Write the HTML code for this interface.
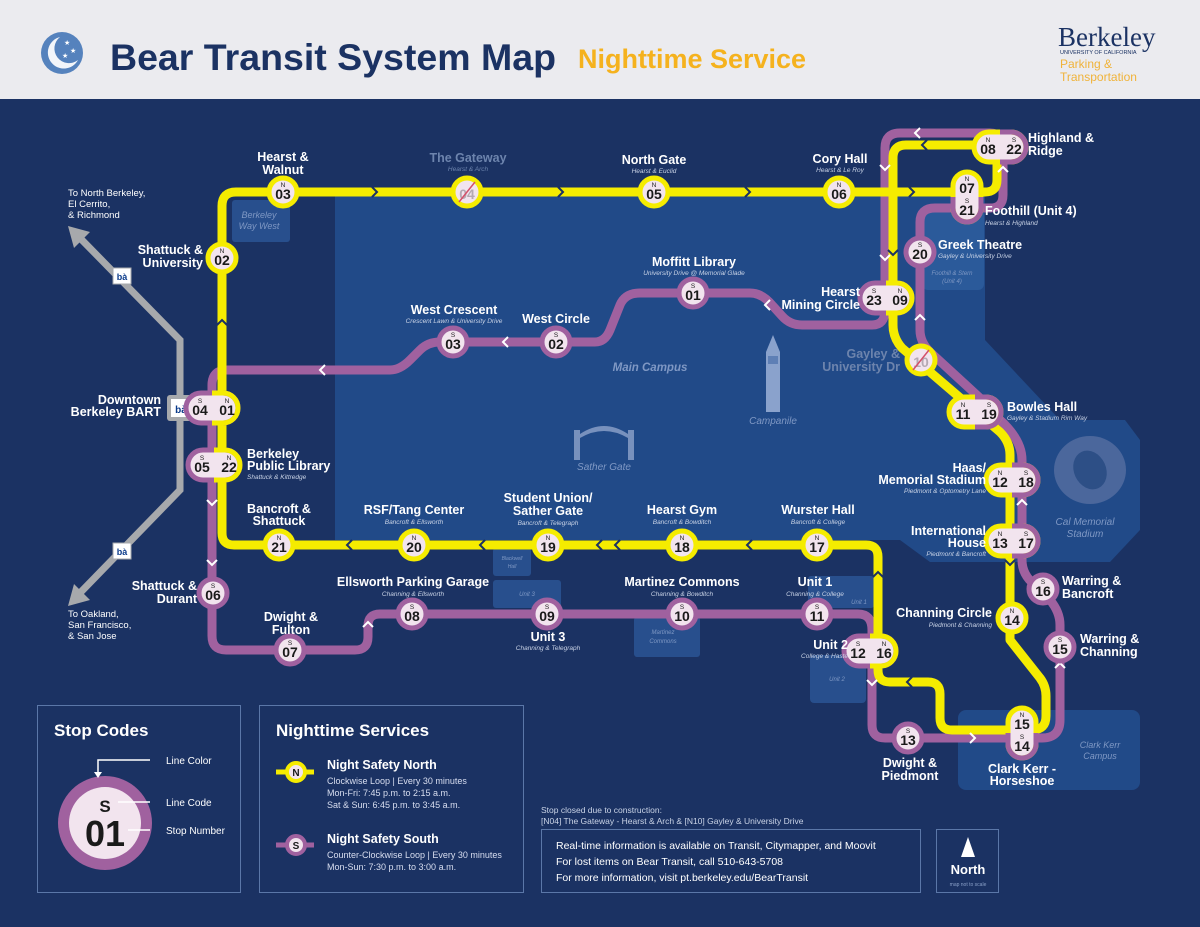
<!DOCTYPE html>
<html><head><meta charset="utf-8"><style>
body{margin:0;width:1200px;height:927px;overflow:hidden;background:#1b3263}
svg{display:block;font-family:"Liberation Sans",sans-serif}
.l{fill:#fff;font-weight:bold;font-size:12.5px}
.s{fill:#c9d3e6;font-style:italic;font-size:6.5px}
.n{fill:#1a1a1a;font-weight:bold;font-size:14px;text-anchor:middle}
.c{fill:#1a1a1a;font-size:6.5px;text-anchor:middle}
.r{text-anchor:end}.m{text-anchor:middle}
.bx{fill:#2a5594;opacity:.85}
.bt{fill:#7f98c4;font-style:italic;text-anchor:middle}
</style></head><body>
<svg width="1200" height="927" viewBox="0 0 1200 927">
<rect width="1200" height="99" fill="#ebebef"/>
<rect y="99" width="1200" height="828" fill="#1b3263"/>
<!-- header -->
<circle cx="62" cy="53" r="21" fill="#5582bd"/>
<path d="M60 37 A16 16 0 1 0 78 60 A13 13 0 0 1 60 37Z" fill="#f2f5fa"/>
<g fill="#fff" font-size="7"><text x="64" y="45">★</text><text x="70" y="53">★</text><text x="62" y="58">★</text></g>
<text x="110" y="70" font-size="37.5" font-weight="bold" fill="#1b3263">Bear Transit System Map</text>
<text x="578" y="68" font-size="27" font-weight="bold" fill="#f5b21e">Nighttime Service</text>
<text x="1058" y="46" font-size="27" font-family="Liberation Serif" fill="#1b3263">Berkeley</text>
<text x="1060" y="54" font-size="5.5" fill="#1b3263">UNIVERSITY OF CALIFORNIA</text>
<text x="1060" y="68" font-size="12" fill="#f0b33a">Parking &amp;</text>
<text x="1060" y="81" font-size="12" fill="#f0b33a">Transportation</text>
<!-- campus areas -->
<path d="M335 192 H985 V340 L1060 420 H1125 L1140 440 V530 L1110 562 H930 L900 540 H335Z" fill="#214a88"/>
<rect x="922" y="205" width="62" height="85" rx="6" fill="#2b5a9a"/>
<rect x="232" y="200" width="58" height="42" rx="3" class="bx"/>
<rect x="493" y="548" width="38" height="28" rx="3" class="bx"/>
<rect x="493" y="580" width="68" height="28" rx="3" class="bx"/>
<rect x="634" y="617" width="66" height="40" rx="3" class="bx"/>
<rect x="808" y="576" width="66" height="32" rx="3" class="bx"/>
<rect x="810" y="655" width="56" height="48" rx="4" class="bx"/>
<rect x="958" y="710" width="182" height="80" rx="8" fill="#214a88"/>
<text x="259" y="218" class="bt" style="font-size:9px">Berkeley</text><text x="259" y="229" class="bt" style="font-size:9px">Way West</text>
<text x="512" y="560" class="bt" style="font-size:5px">Blackwell</text><text x="512" y="568" class="bt" style="font-size:5px">Hall</text>
<text x="527" y="596" class="bt" style="font-size:6px">Unit 3</text>
<text x="663" y="634" class="bt" style="font-size:6px">Martinez</text><text x="663" y="643" class="bt" style="font-size:6px">Commons</text>
<text x="859" y="604" class="bt" style="font-size:6px">Unit 1</text>
<text x="837" y="681" class="bt" style="font-size:6px">Unit 2</text>
<text x="952" y="275" class="bt" style="font-size:6px">Foothill &amp; Stern</text><text x="952" y="283" class="bt" style="font-size:6px">(Unit 4)</text>
<text x="1100" y="748" class="bt" style="font-size:9px">Clark Kerr</text><text x="1100" y="759" class="bt" style="font-size:9px">Campus</text>
<text x="650" y="371" class="bt" style="font-size:11.5px;font-weight:bold">Main Campus</text>
<text x="773" y="424" class="bt" style="font-size:10px">Campanile</text>
<text x="604" y="470" class="bt" style="font-size:10px">Sather Gate</text>
<text x="1085" y="525" class="bt" style="font-size:10px">Cal Memorial</text><text x="1085" y="537" class="bt" style="font-size:10px">Stadium</text>
<!-- campanile -->
<path d="M766 412 V352 L773 335 L780 352 V412Z" fill="#8aa2cc"/>
<rect x="768" y="356" width="10" height="8" fill="#5e7fb5"/>
<!-- sather gate -->
<path d="M574 460 V430 H580 V460Z M628 460 V430 H634 V460Z M580 434 Q604 418 628 434 V438 Q604 424 580 438Z" fill="#7891bd"/>
<!-- stadium -->
<ellipse cx="1090" cy="470" rx="36" ry="34" fill="#4b679c"/>
<ellipse cx="1090" cy="470" rx="16" ry="20" fill="#2d4f86" transform="rotate(-25 1090 470)"/>
<!-- BART line -->
<path d="M80 238 L180 340 V490 L78 595" stroke="#a7a9ac" stroke-width="7" fill="none"/>
<path d="M68 226 L90 232 L74 248Z M68 606 L74 584 L90 600Z" fill="#a7a9ac"/>
<rect x="167" y="395" width="28" height="26" rx="3" fill="#a7a9ac"/>
<rect x="171" y="399" width="20" height="18" fill="#fff"/><text x="181" y="413" font-size="10" font-weight="bold" fill="#0a3a8a" class="m">bà</text>
<rect x="113" y="268" width="18" height="16" fill="#fff" stroke="#a7a9ac"/><text x="122" y="280" font-size="9" font-weight="bold" fill="#0a3a8a" class="m">bà</text>
<rect x="113" y="543" width="18" height="16" fill="#fff" stroke="#a7a9ac"/><text x="122" y="555" font-size="9" font-weight="bold" fill="#0a3a8a" class="m">bà</text>
<g fill="#fff" font-size="9.5"><text x="68" y="196">To North Berkeley,</text><text x="68" y="207">El Cerrito,</text><text x="68" y="218">&amp; Richmond</text>
<text x="68" y="617">To Oakland,</text><text x="68" y="628">San Francisco,</text><text x="68" y="639">&amp; San Jose</text></g>
<!-- purple line -->
<path d="M212 600 V385 Q212 370 227 370 H390 Q400 370 410 360 L420 350 Q428 342 440 342 H595 Q605 342 610 330 L620 305 Q625 293 640 293 H750 Q762 293 772 305 L782 316 Q790 325 802 325 H872 Q885 325 885 310 V148 Q885 133 900 133 H990 Q1003 133 1003 148 V195 Q1003 208 990 208 H935 Q920 208 920 222 V330 Q920 342 930 352 L980 398 Q990 408 1000 420 Q1022 440 1022 460 V560 Q1022 575 1035 585 L1050 600 Q1060 612 1060 625 V720 Q1060 738 1042 738 H885 Q872 738 872 725 V630 Q872 614 858 614 H380 Q368 614 368 626 V637 Q368 650 355 650 H226 Q212 650 212 636 Z" stroke="#a0619f" stroke-width="9" fill="none" stroke-linejoin="round"/>
<!-- yellow line -->
<path d="M222 408 V206 Q222 192 236 192 H985 Q997 192 997 180 V158 Q997 145 984 145 H906 Q893 145 893 158 V325 Q893 338 902 348 L1000 432 Q1010 442 1010 455 V640 L1040 678 Q1046 686 1046 696 V716 Q1046 730 1032 730 H952 Q940 730 940 718 V694 Q940 682 928 682 H890 Q878 682 878 670 V557 Q878 545 866 545 H234 Q222 545 222 533 Z" stroke="#f5ec00" stroke-width="9" fill="none" stroke-linejoin="round"/>
<!-- chevrons -->
<g stroke="#1b3263" stroke-width="2" fill="none">
<path d="M372 187 l5 5 -5 5 M558 187 l5 5 -5 5 M745 187 l5 5 -5 5 M909 187 l5 5 -5 5 M602 540 l-5 5 5 5 M352 540 l-5 5 5 5 M485 540 l-5 5 5 5 M752 540 l-5 5 5 5 M620 540 l-5 5 5 5 M217 325 l5 -5 5 5 M927 140 l-5 5 5 5 M888 250 l5 5 5 -5 M873 577 l5 -5 5 5 M912 677 l-5 5 5 5 M1005 560 l5 5 5 -5"/>
</g>
<g stroke="#fff" stroke-width="2" fill="none">
<path d="M325 365 l-5 5 5 5 M508 337 l-5 5 5 5 M770 300 l-5 5 5 5 M920 128 l-5 5 5 5 M880 165 l5 5 5 -5 M880 255 l5 5 5 -5 M998 172 l5 -5 5 5 M915 320 l5 -5 5 5 M1017 505 l5 -5 5 5 M1055 668 l5 -5 5 5 M970 733 l5 5 -5 5 M867 680 l5 5 5 -5 M207 500 l5 5 5 -5 M207 560 l5 5 5 -5 M287 645 l5 5 -5 5 M363 627 l5 -5 5 5"/>
</g>
<!-- single stops -->
<g stroke-width="5" fill="#f2e4ee">
<g stroke="#f5ec00"><circle cx="283" cy="192" r="14"/><circle cx="654" cy="192" r="14"/><circle cx="839" cy="192" r="14"/><circle cx="222" cy="258" r="14"/><circle cx="279" cy="545" r="14"/><circle cx="414" cy="545" r="14"/><circle cx="548" cy="545" r="14"/><circle cx="682" cy="545" r="14"/><circle cx="817" cy="545" r="14"/><circle cx="1012" cy="618" r="14"/><circle cx="467" cy="192" r="14"/><circle cx="921" cy="360" r="14"/></g>
<g stroke="#a0619f"><circle cx="693" cy="293" r="14"/><circle cx="556" cy="342" r="14"/><circle cx="453" cy="342" r="14"/><circle cx="920" cy="252" r="14"/><circle cx="213" cy="593" r="14"/><circle cx="290" cy="650" r="14"/><circle cx="412" cy="614" r="14"/><circle cx="547" cy="614" r="14"/><circle cx="682" cy="614" r="14"/><circle cx="817" cy="614" r="14"/><circle cx="908" cy="738" r="14"/><circle cx="1043" cy="589" r="14"/><circle cx="1060" cy="647" r="14"/></g>
</g>
<!-- double stops -->
<g fill="#f2e4ee" stroke-width="5">
<rect x="186" y="393" width="52" height="30" rx="15" stroke="#a0619f"/><path d="M212 393 H223 A15 15 0 0 1 223 423 H212" fill="none" stroke="#f5ec00"/>
<rect x="188" y="450" width="52" height="30" rx="15" stroke="#a0619f"/><path d="M214 450 H225 A15 15 0 0 1 225 480 H214" fill="none" stroke="#f5ec00"/>
<rect x="974" y="132" width="52" height="30" rx="15" stroke="#f5ec00"/><path d="M1000 132 H1011 A15 15 0 0 1 1011 162 H1000" fill="none" stroke="#a0619f"/>
<rect x="860" y="283" width="52" height="30" rx="15" stroke="#a0619f"/><path d="M886 283 H897 A15 15 0 0 1 897 313 H886" fill="none" stroke="#f5ec00"/>
<rect x="949" y="397" width="52" height="30" rx="15" stroke="#f5ec00"/><path d="M975 397 H986 A15 15 0 0 1 986 427 H975" fill="none" stroke="#a0619f"/>
<rect x="986" y="465" width="52" height="30" rx="15" stroke="#f5ec00"/><path d="M1012 465 H1023 A15 15 0 0 1 1023 495 H1012" fill="none" stroke="#a0619f"/>
<rect x="986" y="526" width="52" height="30" rx="15" stroke="#f5ec00"/><path d="M1012 526 H1023 A15 15 0 0 1 1023 556 H1012" fill="none" stroke="#a0619f"/>
<rect x="844" y="636" width="52" height="30" rx="15" stroke="#a0619f"/><path d="M870 636 H881 A15 15 0 0 1 881 666 H870" fill="none" stroke="#f5ec00"/>
<rect x="953" y="172" width="28" height="50" rx="14" stroke="#f5ec00"/><path d="M953 197 V208 A14 14 0 0 0 981 208 V197" fill="none" stroke="#a0619f"/>
<rect x="1008" y="708" width="28" height="50" rx="14" stroke="#f5ec00"/><path d="M1008 733 V744 A14 14 0 0 0 1036 744 V733" fill="none" stroke="#a0619f"/>
</g>
<!-- stop text -->
<g>
<text x="283" y="199" class="n">03</text><text x="283" y="187" class="c">N</text>
<text x="654" y="199" class="n">05</text><text x="654" y="187" class="c">N</text>
<text x="839" y="199" class="n">06</text><text x="839" y="187" class="c">N</text>
<text x="222" y="265" class="n">02</text><text x="222" y="253" class="c">N</text>
<text x="279" y="552" class="n">21</text><text x="279" y="540" class="c">N</text>
<text x="414" y="552" class="n">20</text><text x="414" y="540" class="c">N</text>
<text x="548" y="552" class="n">19</text><text x="548" y="540" class="c">N</text>
<text x="682" y="552" class="n">18</text><text x="682" y="540" class="c">N</text>
<text x="817" y="552" class="n">17</text><text x="817" y="540" class="c">N</text>
<text x="1012" y="625" class="n">14</text><text x="1012" y="613" class="c">N</text>
<text x="467" y="199" class="n" style="fill:#b5a9b3">04</text><path d="M459 202 L475 182" stroke="#d4506a" stroke-width="1.5"/>
<text x="921" y="367" class="n" style="fill:#b5a9b3">10</text><path d="M913 370 L929 350" stroke="#d4506a" stroke-width="1.5"/>
<text x="693" y="300" class="n">01</text><text x="693" y="288" class="c">S</text>
<text x="556" y="349" class="n">02</text><text x="556" y="337" class="c">S</text>
<text x="453" y="349" class="n">03</text><text x="453" y="337" class="c">S</text>
<text x="920" y="259" class="n">20</text><text x="920" y="247" class="c">S</text>
<text x="213" y="600" class="n">06</text><text x="213" y="588" class="c">S</text>
<text x="290" y="657" class="n">07</text><text x="290" y="645" class="c">S</text>
<text x="412" y="621" class="n">08</text><text x="412" y="609" class="c">S</text>
<text x="547" y="621" class="n">09</text><text x="547" y="609" class="c">S</text>
<text x="682" y="621" class="n">10</text><text x="682" y="609" class="c">S</text>
<text x="817" y="621" class="n">11</text><text x="817" y="609" class="c">S</text>
<text x="908" y="745" class="n">13</text><text x="908" y="733" class="c">S</text>
<text x="1043" y="596" class="n">16</text><text x="1043" y="584" class="c">S</text>
<text x="1060" y="654" class="n">15</text><text x="1060" y="642" class="c">S</text>
<text x="200" y="415" class="n">04</text><text x="200" y="403" class="c">S</text><text x="227" y="415" class="n">01</text><text x="227" y="403" class="c">N</text>
<text x="202" y="472" class="n">05</text><text x="202" y="460" class="c">S</text><text x="229" y="472" class="n">22</text><text x="229" y="460" class="c">N</text>
<text x="988" y="154" class="n">08</text><text x="988" y="142" class="c">N</text><text x="1014" y="154" class="n">22</text><text x="1014" y="142" class="c">S</text>
<text x="874" y="305" class="n">23</text><text x="874" y="293" class="c">S</text><text x="900" y="305" class="n">09</text><text x="900" y="293" class="c">N</text>
<text x="963" y="419" class="n">11</text><text x="963" y="407" class="c">N</text><text x="989" y="419" class="n">19</text><text x="989" y="407" class="c">S</text>
<text x="1000" y="487" class="n">12</text><text x="1000" y="475" class="c">N</text><text x="1026" y="487" class="n">18</text><text x="1026" y="475" class="c">S</text>
<text x="1000" y="548" class="n">13</text><text x="1000" y="536" class="c">N</text><text x="1026" y="548" class="n">17</text><text x="1026" y="536" class="c">S</text>
<text x="858" y="658" class="n">12</text><text x="858" y="646" class="c">S</text><text x="884" y="658" class="n">16</text><text x="884" y="646" class="c">N</text>
<text x="967" y="193" class="n">07</text><text x="967" y="181" class="c">N</text><text x="967" y="215" class="n">21</text><text x="967" y="203" class="c">S</text>
<text x="1022" y="729" class="n">15</text><text x="1022" y="717" class="c">N</text><text x="1022" y="751" class="n">14</text><text x="1022" y="739" class="c">S</text>
</g>
<!-- labels -->
<g>
<text x="283" y="161" class="l m">Hearst &amp;</text><text x="283" y="174" class="l m">Walnut</text>
<text x="468" y="162" class="l m" style="fill:#6d84ad">The Gateway</text><text x="468" y="171" class="s m" style="fill:#6d84ad">Hearst &amp; Arch</text>
<text x="654" y="164" class="l m">North Gate</text><text x="654" y="173" class="s m">Hearst &amp; Euclid</text>
<text x="840" y="163" class="l m">Cory Hall</text><text x="840" y="172" class="s m">Hearst &amp; Le Roy</text>
<text x="1028" y="142" class="l">Highland &amp;</text><text x="1028" y="155" class="l">Ridge</text>
<text x="985" y="215" class="l">Foothill (Unit 4)</text><text x="985" y="225" class="s">Hearst &amp; Highland</text>
<text x="938" y="249" class="l">Greek Theatre</text><text x="938" y="258" class="s">Gayley &amp; University Drive</text>
<text x="203" y="254" class="l r">Shattuck &amp;</text><text x="203" y="267" class="l r">University</text>
<text x="694" y="266" class="l m">Moffitt Library</text><text x="694" y="275" class="s m">University Drive @ Memorial Glade</text>
<text x="860" y="296" class="l r">Hearst</text><text x="860" y="309" class="l r">Mining Circle</text>
<text x="454" y="314" class="l m">West Crescent</text><text x="454" y="323" class="s m">Crescent Lawn &amp; University Drive</text>
<text x="556" y="323" class="l m">West Circle</text>
<text x="900" y="358" class="l r" style="fill:#6d84ad">Gayley &amp;</text><text x="900" y="371" class="l r" style="fill:#6d84ad">University Dr</text>
<text x="1007" y="411" class="l">Bowles Hall</text><text x="1007" y="420" class="s">Gayley &amp; Stadium Rim Way</text>
<text x="161" y="404" class="l r">Downtown</text><text x="161" y="416" class="l r">Berkeley BART</text>
<text x="247" y="458" class="l">Berkeley</text><text x="247" y="470" class="l">Public Library</text><text x="247" y="479" class="s">Shattuck &amp; Kittredge</text>
<text x="279" y="513" class="l m">Bancroft &amp;</text><text x="279" y="525" class="l m">Shattuck</text>
<text x="414" y="514" class="l m">RSF/Tang Center</text><text x="414" y="524" class="s m">Bancroft &amp; Ellsworth</text>
<text x="548" y="502" class="l m">Student Union/</text><text x="548" y="515" class="l m">Sather Gate</text><text x="548" y="525" class="s m">Bancroft &amp; Telegraph</text>
<text x="682" y="514" class="l m">Hearst Gym</text><text x="682" y="524" class="s m">Bancroft &amp; Bowditch</text>
<text x="818" y="514" class="l m">Wurster Hall</text><text x="818" y="524" class="s m">Bancroft &amp; College</text>
<text x="986" y="472" class="l r">Haas/</text><text x="986" y="484" class="l r">Memorial Stadium</text><text x="986" y="493" class="s r">Piedmont &amp; Optometry Lane</text>
<text x="986" y="535" class="l r">International</text><text x="986" y="547" class="l r">House</text><text x="986" y="556" class="s r">Piedmont &amp; Bancroft</text>
<text x="197" y="590" class="l r">Shattuck &amp;</text><text x="197" y="603" class="l r">Durant</text>
<text x="413" y="586" class="l m">Ellsworth Parking Garage</text><text x="413" y="596" class="s m">Channing &amp; Ellsworth</text>
<text x="682" y="586" class="l m">Martinez Commons</text><text x="682" y="596" class="s m">Channing &amp; Bowditch</text>
<text x="815" y="586" class="l m">Unit 1</text><text x="815" y="596" class="s m">Channing &amp; College</text>
<text x="1062" y="585" class="l">Warring &amp;</text><text x="1062" y="598" class="l">Bancroft</text>
<text x="992" y="617" class="l r">Channing Circle</text><text x="992" y="627" class="s r">Piedmont &amp; Channing</text>
<text x="1080" y="643" class="l">Warring &amp;</text><text x="1080" y="656" class="l">Channing</text>
<text x="291" y="621" class="l m">Dwight &amp;</text><text x="291" y="634" class="l m">Fulton</text>
<text x="548" y="641" class="l m">Unit 3</text><text x="548" y="650" class="s m">Channing &amp; Telegraph</text>
<text x="848" y="649" class="l r">Unit 2</text><text x="848" y="658" class="s r">College &amp; Haste</text>
<text x="910" y="767" class="l m">Dwight &amp;</text><text x="910" y="780" class="l m">Piedmont</text>
<text x="1022" y="773" class="l m">Clark Kerr -</text><text x="1022" y="785" class="l m">Horseshoe</text>
</g>
<!-- legends -->
<g fill="none" stroke="#5b77a8" stroke-width="1"><rect x="37.5" y="705.5" width="203" height="187"/><rect x="259.5" y="705.5" width="264" height="187"/><rect x="541.5" y="829.5" width="379" height="63"/><rect x="936.5" y="829.5" width="62" height="63"/></g>
<text x="54" y="736" fill="#fff" font-size="17" font-weight="bold">Stop Codes</text>
<circle cx="105" cy="823" r="47" fill="#a0619f"/><circle cx="105" cy="823" r="36" fill="#f2e4ee"/>
<text x="105" y="812" font-size="17" font-weight="bold" fill="#1a1a1a" class="m">S</text>
<text x="105" y="846" font-size="36" font-weight="bold" fill="#1a1a1a" class="m">01</text>
<g stroke="#fff" stroke-width="1.5" fill="none"><path d="M150 760 H98 V772 M150 802 H118 M150 830 H128"/></g>
<path d="M94 772 L102 772 L98 778Z" fill="#fff"/>
<g fill="#fff" font-size="10"><text x="166" y="764">Line Color</text><text x="166" y="806">Line Code</text><text x="166" y="834">Stop Number</text></g>
<text x="276" y="736" fill="#fff" font-size="17" font-weight="bold">Nighttime Services</text>
<path d="M276 772 H314" stroke="#f5ec00" stroke-width="5"/><circle cx="296" cy="772" r="9" fill="#f2e4ee" stroke="#f5ec00" stroke-width="4"/><text x="296" y="776" font-size="10" font-weight="bold" class="m" fill="#1a1a1a">N</text>
<path d="M276 845 H314" stroke="#a0619f" stroke-width="5"/><circle cx="296" cy="845" r="9" fill="#f2e4ee" stroke="#a0619f" stroke-width="4"/><text x="296" y="849" font-size="10" font-weight="bold" class="m" fill="#1a1a1a">S</text>
<text x="327" y="769" fill="#fff" font-size="12.5" font-weight="bold">Night Safety North</text>
<g fill="#d8def0" font-size="9"><text x="327" y="784">Clockwise Loop | Every 30 minutes</text><text x="327" y="796">Mon-Fri: 7:45 p.m. to 2:15 a.m.</text><text x="327" y="808">Sat &amp; Sun: 6:45 p.m. to 3:45 a.m.</text>
<text x="327" y="858">Counter-Clockwise Loop | Every 30 minutes</text><text x="327" y="870">Mon-Sun: 7:30 p.m. to 3:00 a.m.</text></g>
<text x="327" y="843" fill="#fff" font-size="12.5" font-weight="bold">Night Safety South</text>
<g fill="#c9d3e6" font-size="8.5"><text x="541" y="813">Stop closed due to construction:</text><text x="541" y="824">[N04] The Gateway - Hearst &amp; Arch &amp; [N10] Gayley &amp; University Drive</text></g>
<g fill="#fff" font-size="10.5"><text x="556" y="849">Real-time information is available on Transit, Citymapper, and Moovit</text><text x="556" y="865">For lost items on Bear Transit, call 510-643-5708</text><text x="556" y="881">For more information, visit pt.berkeley.edu/BearTransit</text></g>
<path d="M968 837 L975 857 H961Z" fill="#fff"/>
<text x="968" y="874" fill="#fff" font-size="13" font-weight="bold" class="m">North</text>
<text x="968" y="886" fill="#8aa0c8" font-size="5" class="m">map not to scale</text>
</svg>
</body></html>
